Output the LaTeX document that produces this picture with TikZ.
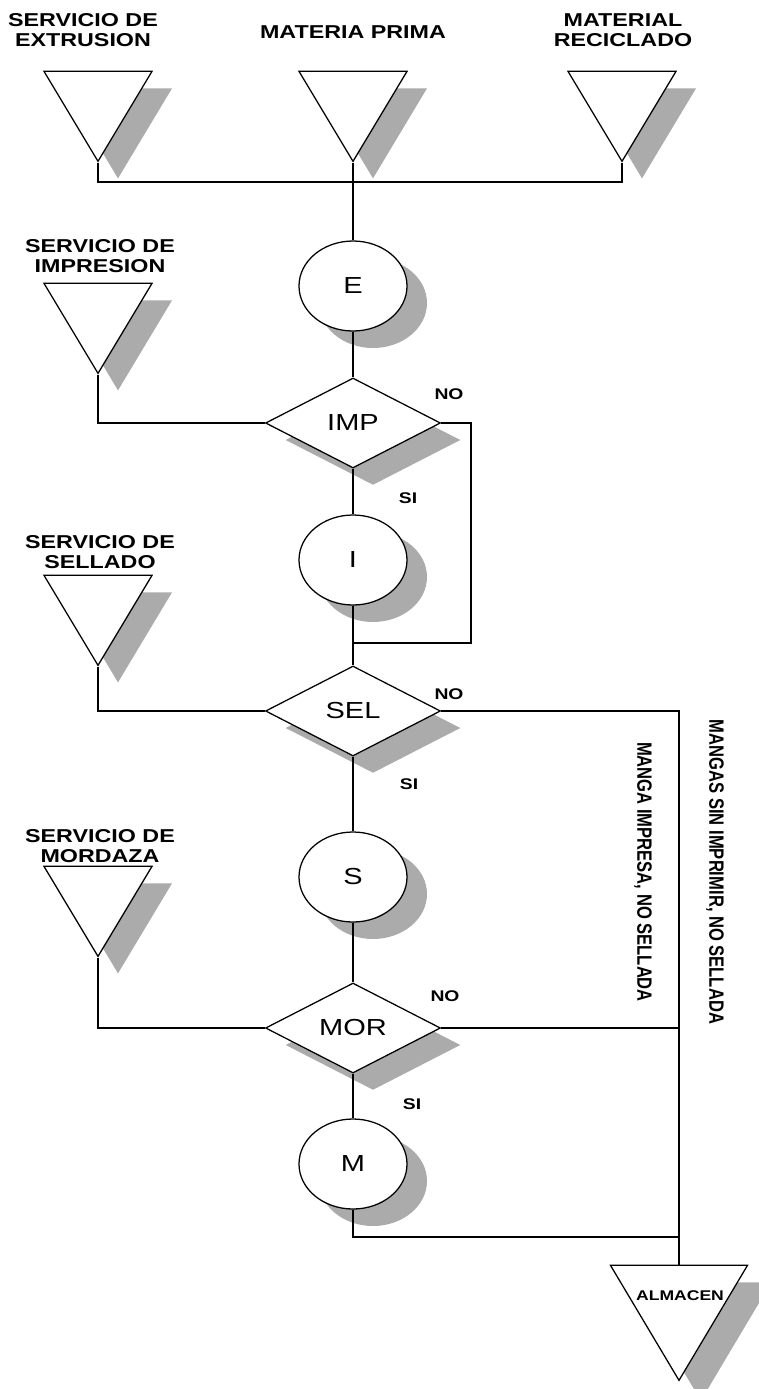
\documentclass[tikz,border=0pt]{standalone}
\usepackage{fontspec}
\setmainfont{Liberation Sans}[FakeStretch=1.25]
\newfontfamily\routefont{Liberation Sans}
\usetikzlibrary{shapes.geometric,shadows}

\tikzset{
  base/.style={draw=black,line width=1.8pt,fill=white,inner sep=0pt,
    drop shadow={shadow xshift=1cm,shadow yshift=-0.85cm,opacity=1,fill=black!33}},
  proc/.style={base,ellipse,minimum width=5.4cm,minimum height=4.5cm,
    font=\fontsize{33}{36}\selectfont},
  decision/.style={base,diamond,minimum width=8.75cm,minimum height=4.5cm,
    font=\fontsize{33}{36}\selectfont},
  silo/.style={base,isosceles triangle,shape border rotate=-90,
    isosceles triangle stretches,minimum width=5.4cm,minimum height=4.5cm,anchor=apex},
  supply/.style={align=center,font=\bfseries\fontsize{26.5}{28}\selectfont},
  answer/.style={font=\bfseries\fontsize{22}{24}\selectfont},
  route/.style={rotate=-90,font=\routefont\bfseries\fontsize{23.6}{26}\selectfont},
  conn/.style={line width=3.8pt}
}

\begin{document}
\begin{tikzpicture}[x=0.5cm,y=-0.5cm]
  \useasboundingbox[fill=white] (0,0) rectangle (75.8,138.9);

  % inputs on top
  \node[supply] (lext) at (8.3,3.0) {SERVICIO DE\\EXTRUSION};
  \node[supply] (lmp) at (35.3,3.2) {MATERIA PRIMA};
  \node[supply] (lrec) at (62.3,3.0) {MATERIAL\\RECICLADO};
  \node[silo] (ext) at (9.8,16.3) {};
  \node[silo] (mp) at (35.3,16.3) {};
  \node[silo] (rec) at (62.2,16.3) {};

  % services on the left
  \node[supply] (limp) at (10.0,25.6) {SERVICIO DE\\IMPRESION};
  \node[supply] (lsel) at (10.0,55.2) {SERVICIO DE\\SELLADO};
  \node[supply] (lmor) at (10.0,84.6) {SERVICIO DE\\MORDAZA};
  \node[silo] (imp) at (9.8,37.5) {};
  \node[silo] (sel) at (9.8,66.7) {};
  \node[silo] (mor) at (9.8,95.8) {};

  % main line
  \node[proc] (E) at (35.3,28.6) {E};
  \node[decision] (IMP) at (35.3,42.3) {IMP};
  \node[proc] (I) at (35.3,56.0) {I};
  \node[decision] (SEL) at (35.3,71.1) {SEL};
  \node[proc] (S) at (35.3,87.7) {S};
  \node[decision] (MOR) at (35.3,102.8) {MOR};
  \node[proc] (M) at (35.3,116.4) {M};

  % store
  \node[silo,minimum width=6.85cm,minimum height=5.75cm,
    drop shadow={shadow xshift=1.1cm,shadow yshift=-1cm,opacity=1,fill=black!33}]
    (alm) at (67.9,138.2) {};
  \node[font=\bfseries\fontsize{20}{22}\selectfont] (lalm) at (68.0,129.6) {ALMACEN};

  \node[answer] (no1) at (44.9,39.4) {NO};
  \node[answer] (si1) at (40.8,49.8) {SI};
  \node[answer] (no2) at (44.9,69.4) {NO};
  \node[answer] (si2) at (40.9,78.4) {SI};
  \node[answer] (no3) at (44.5,99.6) {NO};
  \node[answer] (si3) at (41.2,110.4) {SI};

  \node[route] (printed) at (64.3,87.2) {\scalebox{1}[1.25]{MANGA IMPRESA, NO SELLADA}};
  \node[route] (plain) at (71.5,87.2) {\scalebox{1}[1.25]{MANGAS SIN IMPRIMIR, NO SELLADA}};

  \coordinate (join) at (35.3,18.2);
  \coordinate (loop) at (47.1,64.3);
  \coordinate (store) at (67.9,123.7);

  \draw[conn] (ext.apex) |- (join) -| (rec.apex);
  \draw[conn] (mp.apex) -- (E);
  \draw[conn] (E) -- (IMP);
  \draw[conn] (IMP.west) -| (imp.apex);
  \draw[conn] (IMP.east) -| (loop) -- (loop -| IMP.south);
  \draw[conn] (IMP) -- (I);
  \draw[conn] (I) -- (SEL);
  \draw[conn] (SEL.west) -| (sel.apex);
  \draw[conn] (SEL.east) -| (alm.lower side);
  \draw[conn] (SEL) -- (S);
  \draw[conn] (S) -- (MOR);
  \draw[conn] (MOR.west) -| (mor.apex);
  \draw[conn] (MOR.east) -- (MOR.east -| alm.apex);
  \draw[conn] (MOR) -- (M);
  \draw[conn] (M) |- (store);
\end{tikzpicture}
\end{document}
